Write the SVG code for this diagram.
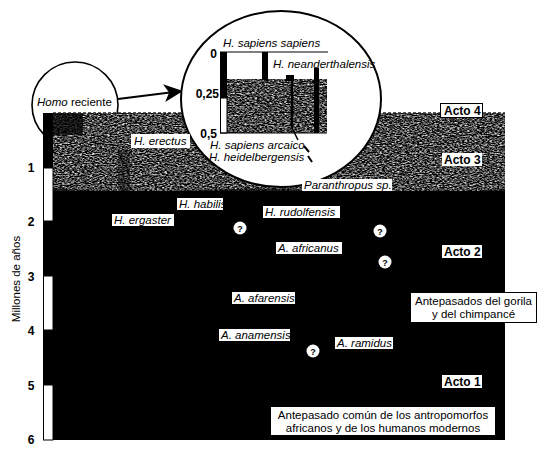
<svg xmlns="http://www.w3.org/2000/svg" width="553" height="457" viewBox="0 0 553 457">
<defs>
  <filter id="noise" x="0" y="0" width="100%" height="100%" color-interpolation-filters="sRGB">
    <feTurbulence type="fractalNoise" baseFrequency="0.4 0.9" numOctaves="2" seed="7"/>
    <feColorMatrix type="matrix" values="2 0 0 0 -0.72  2 0 0 0 -0.72  2 0 0 0 -0.72  0 0 0 0 1"/>
  </filter>
  <style>
    .lbl { font-family: "Liberation Sans", Arial, sans-serif; font-size: 11.5px; font-style: italic; fill: #000; }
    .box { fill: #fff; }
    .boxb { fill: #fff; stroke: #000; stroke-width: 1; }
    .acto { font-family: "Liberation Sans", Arial, sans-serif; font-size: 12px; font-weight: bold; fill: #000; }
    .plain { font-family: "Liberation Sans", Arial, sans-serif; font-size: 11.5px; fill: #000; }
    .tick { font-family: "Liberation Sans", Arial, sans-serif; font-size: 12px; font-weight: bold; fill: #000; }
    .q { fill: #fff; }
    .qt { font-family: "Liberation Sans", Arial, sans-serif; font-size: 9px; font-weight: bold; fill: #000; text-anchor: middle; }
  </style>
</defs>
<rect width="553" height="457" fill="#fff"/>

<!-- Homo reciente bubble (behind chart) -->
<g id="homo-reciente">
  <circle cx="75" cy="105" r="43" fill="#fff" stroke="#000" stroke-width="1.6"/>
  <text class="lbl" x="37" y="106" font-size="12">Homo <tspan font-style="normal">reciente</tspan></text>
</g>

<!-- main chart -->
<g id="chart">
  <rect x="53" y="113" width="452" height="327" fill="#000"/>
  <rect x="53" y="113" width="452" height="78" filter="url(#noise)"/>
  <path d="M53,188 Q120,194 200,190 T330,192 T505,189 L505,196 L53,196 Z" fill="#000" opacity="0.6"/>
  <rect x="53" y="113" width="30" height="22" fill="#000" opacity="0.7"/>
  <rect x="118" y="150" width="12" height="42" fill="#000" opacity="0.4"/>
  <line x1="53" y1="113" x2="505" y2="113" stroke="#222" stroke-width="1.5" stroke-dasharray="3 2"/>
</g>

<!-- axis -->
<g id="axis">
  <rect x="43" y="113" width="10" height="55" fill="#000"/>
  <rect x="43.5" y="168" width="9.5" height="53" fill="#fff" stroke="#000" stroke-width="1"/>
  <rect x="43" y="221" width="10" height="55" fill="#000"/>
  <rect x="43.5" y="276" width="9.5" height="54" fill="#fff" stroke="#000" stroke-width="1"/>
  <rect x="43" y="330" width="10" height="55" fill="#000"/>
  <rect x="43.5" y="385" width="9.5" height="55" fill="#fff" stroke="#000" stroke-width="1"/>
  <text class="tick" x="31" y="172" text-anchor="middle">1</text>
  <text class="tick" x="31" y="226" text-anchor="middle">2</text>
  <text class="tick" x="31" y="281" text-anchor="middle">3</text>
  <text class="tick" x="31" y="335" text-anchor="middle">4</text>
  <text class="tick" x="31" y="390" text-anchor="middle">5</text>
  <text class="tick" x="31" y="444" text-anchor="middle">6</text>
  <text class="plain" x="0" y="0" font-size="12" text-anchor="middle" transform="translate(20,279) rotate(-90)">Millones de años</text>
</g>

<!-- connectors -->
<g id="connectors">
  <line x1="118" y1="99" x2="170" y2="92.5" stroke="#000" stroke-width="2"/>
  <polygon points="183,91 163,84.3 169.1,92.6 165.2,102.1" fill="#000"/>
</g>

<!-- magnifier -->
<g id="magnifier">
  <ellipse cx="281" cy="99" rx="100" ry="88" fill="#fff" stroke="#000" stroke-width="2"/>
  <rect x="227" y="79" width="100" height="54" filter="url(#noise)"/>
  <line x1="220" y1="52" x2="328" y2="52" stroke="#000" stroke-width="1"/>
  <rect x="220" y="52" width="7" height="46" fill="#000"/>
  <rect x="220.5" y="98" width="6.5" height="35" fill="#fff" stroke="#000" stroke-width="1"/>
  <line x1="220" y1="133" x2="327" y2="133" stroke="#000" stroke-width="1.2"/>
  <rect x="262" y="52" width="6" height="28" fill="#000"/>
  <rect x="286" y="75" width="8" height="6" fill="#000"/>
  <rect x="314" y="68" width="5" height="65" fill="#000"/>
  <line x1="292" y1="78" x2="292" y2="128" stroke="#000" stroke-width="2.5"/>
  <line x1="292" y1="128" x2="298" y2="140" stroke="#000" stroke-width="1.5"/>
  <line x1="304" y1="146" x2="309" y2="152" stroke="#000" stroke-width="2"/>
  <line x1="308" y1="156" x2="312" y2="162" stroke="#000" stroke-width="2"/>
  <text class="tick" x="217" y="58" text-anchor="end">0</text>
  <text class="tick" x="219" y="98" text-anchor="end">0,25</text>
  <text class="tick" x="217" y="138" text-anchor="end">0,5</text>
  <text class="lbl" x="223" y="47">H. sapiens sapiens</text>
  <text class="lbl" x="273" y="68">H. neanderthalensis</text>
  <text class="lbl" x="210" y="149">H. sapiens arcaico</text>
  <text class="lbl" x="209" y="161">H. heidelbergensis</text>
</g>

<!-- species labels -->
<g id="h-erectus"><rect class="box" x="131" y="134" width="59" height="14"/><text class="lbl" x="134" y="145" font-size="12">H. erectus</text></g>
<g id="paranthropus"><rect class="box" x="302" y="179" width="90" height="12"/><text class="lbl" x="304" y="189">Paranthropus sp.</text></g>
<g id="h-habilis"><rect class="box" x="177" y="198" width="46" height="12"/><text class="lbl" x="179" y="208">H. habilis</text></g>
<g id="h-ergaster"><rect class="box" x="112" y="214" width="62" height="12"/><text class="lbl" x="114" y="224">H. ergaster</text></g>
<g id="h-rudolfensis"><rect class="box" x="263" y="206" width="77" height="12"/><text class="lbl" x="265" y="216">H. rudolfensis</text></g>
<g id="a-africanus"><rect class="box" x="276" y="242" width="66" height="12"/><text class="lbl" x="278" y="252">A. africanus</text></g>
<g id="a-afarensis"><rect class="box" x="232" y="292" width="63" height="12"/><text class="lbl" x="234" y="302">A. afarensis</text></g>
<g id="a-anamensis"><rect class="box" x="219" y="329" width="71" height="12"/><text class="lbl" x="221" y="339">A. anamensis</text></g>
<g id="a-ramidus"><rect class="box" x="335" y="337" width="58" height="12"/><text class="lbl" x="337" y="347">A. ramidus</text></g>

<!-- question marks -->
<g id="q1"><circle class="q" cx="240" cy="228" r="6.5"/><text class="qt" x="240" y="231.5">?</text></g>
<g id="q2"><circle class="q" cx="380" cy="231" r="6.5"/><text class="qt" x="380" y="234.5">?</text></g>
<g id="q3"><circle class="q" cx="385" cy="262" r="6.5"/><text class="qt" x="385" y="265.5">?</text></g>
<g id="q4"><circle class="q" cx="313" cy="351" r="6.5"/><text class="qt" x="313" y="354.5">?</text></g>

<!-- acts -->
<g id="acto4"><rect class="boxb" x="440.5" y="103.5" width="42" height="14"/><text class="acto" x="444" y="115">Acto 4</text></g>
<g id="acto3"><rect class="box" x="442" y="153" width="40" height="13"/><text class="acto" x="444" y="164">Acto 3</text></g>
<g id="acto2"><rect class="box" x="442" y="245" width="40" height="13"/><text class="acto" x="444" y="256">Acto 2</text></g>
<g id="acto1"><rect class="box" x="442" y="375" width="40" height="13"/><text class="acto" x="444" y="386">Acto 1</text></g>

<!-- ancestors -->
<g id="gorila"><rect class="boxb" x="410.5" y="292.5" width="126" height="30"/>
  <text class="plain" x="473.5" y="305" text-anchor="middle">Antepasados del gorila</text>
  <text class="plain" x="473.5" y="318" text-anchor="middle">y del chimpancé</text></g>
<g id="comun"><rect class="box" x="271" y="407" width="224" height="28"/>
  <text class="plain" x="383" y="419" text-anchor="middle">Antepasado común de los antropomorfos</text>
  <text class="plain" x="383" y="432" text-anchor="middle">africanos y de los humanos modernos</text></g>
</svg>
